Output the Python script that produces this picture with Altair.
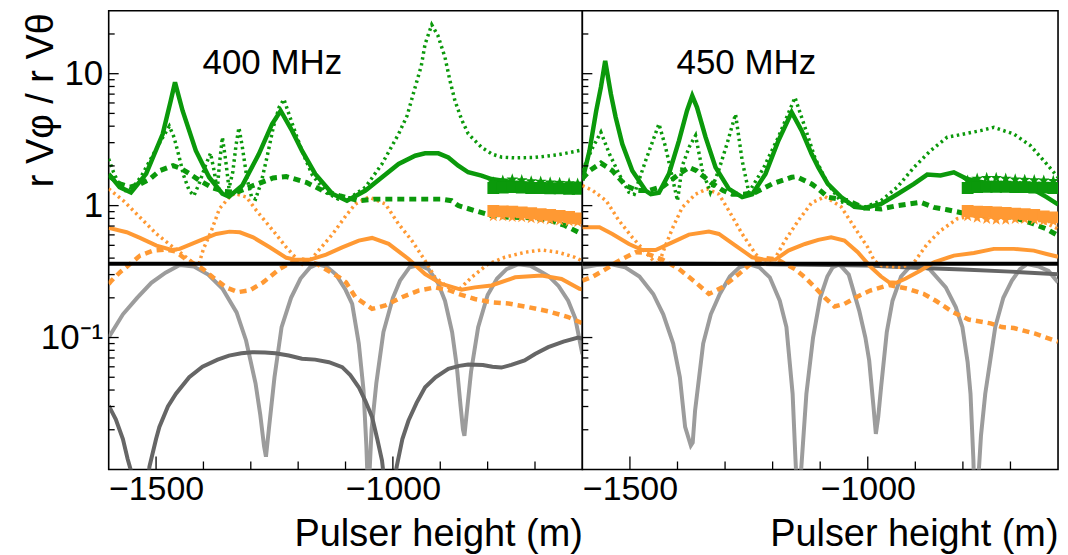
import altair as alt
import pandas as pd

FONT = "Liberation Sans"
GREEN = "#0b990b"
ORANGE = "#ff9933"
LGRAY = "#9c9c9c"
DGRAY = "#666666"

X_DOMAIN = [-1600, -600]
Y_DOMAIN = [0.01, 30]
X_LABELS = [-1500, -1000]
X_MINOR = [-1400, -1300, -1200, -1100, -900, -800, -700]
Y_MAJOR = [0.1, 1, 10]
Y_MINOR = [0.02, 0.03, 0.04, 0.05, 0.06, 0.07, 0.08, 0.09,
           0.2, 0.3, 0.4, 0.5, 0.6, 0.7, 0.8, 0.9,
           2, 3, 4, 5, 6, 7, 8, 9, 20]
PANEL_LABELS = ["400 MHz", "450 MHz"]
LABEL_X = -1402
LABEL_V = 12.0
REF_LINE = [(-1600, 0.362), (-600, 0.362)]

# ---------------- 400 MHz ----------------
A_GREEN_SOLID = [(-1600, 1.74), (-1577, 1.38), (-1553, 1.26), (-1521, 1.74), (-1486, 3.49), (-1469, 6.24),
                 (-1460, 8.6), (-1444, 5.24), (-1416, 2.61), (-1388, 1.64), (-1360, 1.23), (-1346, 1.17),
                 (-1318, 1.42), (-1283, 2.46), (-1255, 4.16), (-1237, 5.24), (-1213, 3.70), (-1192, 2.61),
                 (-1164, 1.74), (-1128, 1.23), (-1097, 1.09), (-1058, 1.30), (-1023, 1.64), (-988, 2.07),
                 (-953, 2.39), (-932, 2.49), (-904, 2.49), (-883, 2.32), (-862, 2.01), (-841, 1.79),
                 (-813, 1.69), (-792, 1.59), (-743, 1.50), (-700, 1.45), (-650, 1.42), (-600, 1.38)]
A_GREEN_DOTTED = [(-1600, 2.26), (-1590, 1.8), (-1578, 1.45), (-1565, 1.3), (-1550, 1.35), (-1530, 1.7),
                  (-1510, 2.3), (-1490, 3.1), (-1472, 4.0), (-1462, 3.3), (-1452, 2.4), (-1442, 1.7),
                  (-1430, 1.3), (-1420, 1.19), (-1408, 1.5), (-1396, 2.0), (-1385, 2.5), (-1377, 1.8),
                  (-1371, 1.3), (-1366, 2.1), (-1360, 3.3), (-1353, 2.2), (-1346, 1.35), (-1338, 1.8),
                  (-1331, 2.9), (-1325, 3.9), (-1318, 2.8), (-1308, 1.6), (-1298, 1.15), (-1290, 1.12),
                  (-1278, 1.5), (-1265, 2.4), (-1252, 4.0), (-1240, 5.6), (-1230, 6.4), (-1220, 5.0),
                  (-1205, 3.5), (-1190, 2.5), (-1170, 1.7), (-1140, 1.25), (-1115, 1.12), (-1090, 1.15),
                  (-1058, 1.38), (-1023, 2.07), (-988, 3.49), (-970, 4.8), (-953, 7.9), (-940, 11.5),
                  (-932, 16.8), (-918, 23.5), (-905, 19.5), (-890, 13.3), (-880, 9.0), (-869, 6.24),
                  (-855, 4.5), (-841, 3.5), (-813, 2.77), (-790, 2.45), (-770, 2.33), (-742, 2.30),
                  (-700, 2.32), (-651, 2.43), (-600, 2.64)]
A_GREEN_DASHED = [(-1600, 1.69), (-1576, 1.46), (-1555, 1.38), (-1535, 1.45), (-1513, 1.59), (-1492, 1.84),
                  (-1464, 2.01), (-1446, 1.90), (-1429, 1.74), (-1408, 1.55), (-1380, 1.36), (-1355, 1.28),
                  (-1330, 1.26), (-1295, 1.42), (-1253, 1.62), (-1225, 1.66), (-1183, 1.50), (-1148, 1.30),
                  (-1113, 1.19), (-1072, 1.09), (-1037, 1.12), (-967, 1.12), (-897, 1.12), (-876, 1.09),
                  (-862, 1.00), (-827, 0.916), (-792, 0.84), (-756, 0.816), (-714, 0.81), (-672, 0.78),
                  (-637, 0.707), (-609, 0.63), (-600, 0.61)]
A_ORANGE_SOLID = [(-1600, 0.678), (-1562, 0.628), (-1534, 0.569), (-1499, 0.498), (-1467, 0.461),
                  (-1450, 0.47), (-1408, 0.543), (-1373, 0.61), (-1345, 0.635), (-1323, 0.628),
                  (-1295, 0.575), (-1260, 0.483), (-1225, 0.402), (-1204, 0.388), (-1176, 0.388),
                  (-1141, 0.425), (-1107, 0.483), (-1072, 0.543), (-1044, 0.569), (-1009, 0.513),
                  (-967, 0.394), (-932, 0.303), (-897, 0.255), (-855, 0.23), (-827, 0.24), (-792, 0.248),
                  (-742, 0.286), (-686, 0.295), (-644, 0.278), (-606, 0.234), (-600, 0.232)]
A_ORANGE_DOTTED = [(-1600, 1.34), (-1569, 1.09), (-1534, 0.816), (-1499, 0.61), (-1464, 0.483),
                   (-1436, 0.406), (-1418, 0.36), (-1410, 0.355), (-1400, 0.47), (-1385, 0.62),
                   (-1366, 0.95), (-1346, 1.15), (-1334, 1.24), (-1309, 1.16), (-1288, 0.916),
                   (-1253, 0.646), (-1225, 0.483), (-1201, 0.388), (-1188, 0.35), (-1169, 0.406),
                   (-1127, 0.61), (-1099, 0.84), (-1079, 1.03), (-1051, 1.16), (-1016, 1.03),
                   (-988, 0.726), (-960, 0.543), (-932, 0.383), (-911, 0.286), (-883, 0.24),
                   (-858, 0.235), (-834, 0.286), (-799, 0.361), (-764, 0.406), (-721, 0.443),
                   (-686, 0.461), (-651, 0.443), (-616, 0.406), (-600, 0.38)]
A_ORANGE_DASHED = [(-1600, 0.255), (-1594, 0.27), (-1576, 0.313), (-1555, 0.36), (-1534, 0.418),
                   (-1506, 0.456), (-1480, 0.465), (-1460, 0.45), (-1440, 0.40), (-1418, 0.36),
                   (-1401, 0.331), (-1380, 0.286), (-1352, 0.24), (-1327, 0.221), (-1302, 0.228),
                   (-1274, 0.262), (-1239, 0.331), (-1215, 0.37), (-1190, 0.39), (-1160, 0.36),
                   (-1130, 0.31), (-1113, 0.286), (-1099, 0.262), (-1079, 0.202), (-1044, 0.165),
                   (-1016, 0.175), (-981, 0.202), (-946, 0.227), (-911, 0.24), (-880, 0.228),
                   (-862, 0.214), (-827, 0.196), (-792, 0.185), (-756, 0.181), (-714, 0.17),
                   (-672, 0.158), (-630, 0.143), (-606, 0.131), (-600, 0.128)]
A_LIGHT_GRAY = [(-1600, 0.10), (-1570, 0.15), (-1540, 0.20), (-1510, 0.26), (-1480, 0.31), (-1450, 0.355),
                (-1420, 0.345), (-1390, 0.30), (-1360, 0.235), (-1330, 0.155), (-1310, 0.095),
                (-1290, 0.045), (-1280, 0.026), (-1272, 0.015), (-1268, 0.0125), (-1262, 0.02),
                (-1250, 0.05), (-1235, 0.12), (-1215, 0.20), (-1195, 0.28), (-1175, 0.34), (-1160, 0.36),
                (-1140, 0.345), (-1120, 0.30), (-1100, 0.23), (-1086, 0.18), (-1072, 0.09),
                (-1062, 0.04), (-1056, 0.015), (-1052, 0.006), (-1045, 0.02), (-1035, 0.045),
                (-1020, 0.11), (-1000, 0.20), (-985, 0.27), (-965, 0.34), (-945, 0.355), (-925, 0.33),
                (-905, 0.26), (-890, 0.19), (-875, 0.11), (-865, 0.06), (-857, 0.03), (-852, 0.02),
                (-849, 0.018), (-845, 0.025), (-835, 0.055), (-820, 0.12), (-800, 0.21), (-780, 0.28),
                (-760, 0.33), (-735, 0.36), (-710, 0.35), (-690, 0.32), (-670, 0.29), (-650, 0.245),
                (-630, 0.19), (-615, 0.14), (-600, 0.075)]
A_DARK_GRAY = [(-1600, 0.0305), (-1585, 0.024), (-1570, 0.017), (-1560, 0.012), (-1553, 0.0098),
               (-1540, 0.004), (-1525, 0.004), (-1514, 0.0105), (-1500, 0.017), (-1493, 0.021),
               (-1475, 0.03), (-1458, 0.0375), (-1430, 0.05), (-1402, 0.06), (-1370, 0.068),
               (-1346, 0.073), (-1320, 0.076), (-1297, 0.0774), (-1270, 0.077), (-1248, 0.076),
               (-1220, 0.073), (-1192, 0.069), (-1164, 0.068), (-1135, 0.065), (-1107, 0.0596),
               (-1090, 0.052), (-1072, 0.042), (-1058, 0.033), (-1044, 0.025), (-1033, 0.017),
               (-1023, 0.0117), (-1016, 0.007), (-1005, 0.004), (-997, 0.008), (-992, 0.0105),
               (-980, 0.017), (-967, 0.0235), (-950, 0.032), (-932, 0.042), (-910, 0.05), (-883, 0.058),
               (-860, 0.061), (-841, 0.0624), (-810, 0.062), (-790, 0.060), (-771, 0.0592),
               (-750, 0.062), (-722, 0.067), (-700, 0.075), (-672, 0.0845), (-640, 0.093),
               (-609, 0.10), (-600, 0.098)]
A_MARK_X = [-788, -768, -748, -728, -708, -688, -668, -648, -628, -610]
A_GREEN_SQUARES = [1.36, 1.37, 1.38, 1.37, 1.36, 1.36, 1.35, 1.35, 1.34, 1.34]
A_GREEN_STARS = [1.50, 1.55, 1.58, 1.56, 1.53, 1.52, 1.50, 1.49, 1.48, 1.47]
A_ORANGE_SQUARES = [0.91, 0.905, 0.90, 0.89, 0.875, 0.86, 0.85, 0.835, 0.82, 0.80]
A_ORANGE_STARS = [0.83, 0.83, 0.82, 0.815, 0.80, 0.79, 0.78, 0.77, 0.76, 0.75]

# ---------------- 450 MHz ----------------
B_GREEN_SOLID = [(-1600, 1.55), (-1585, 2.6), (-1571, 5.2), (-1561, 7.9), (-1552, 12.5), (-1540, 7.0),
                 (-1530, 4.67), (-1516, 2.93), (-1495, 1.84), (-1467, 1.30), (-1456, 1.22), (-1439, 1.25),
                 (-1418, 1.74), (-1397, 3.1), (-1380, 5.24), (-1369, 6.8), (-1359, 5.56), (-1341, 3.3),
                 (-1320, 1.95), (-1292, 1.34), (-1264, 1.16), (-1243, 1.22), (-1215, 1.74), (-1188, 3.1),
                 (-1160, 5.1), (-1139, 3.7), (-1118, 2.46), (-1104, 1.95), (-1084, 1.46), (-1056, 1.16),
                 (-1028, 0.98), (-1007, 0.96), (-972, 1.03), (-938, 1.22), (-903, 1.46), (-875, 1.72),
                 (-847, 1.69), (-819, 1.79), (-791, 1.59), (-750, 1.48), (-700, 1.42), (-670, 1.38),
                 (-648, 1.30), (-624, 1.16), (-600, 1.02)]
B_GREEN_DOTTED = [(-1600, 1.84), (-1578, 2.77), (-1561, 3.6), (-1543, 2.46), (-1523, 1.74), (-1502, 1.26),
                  (-1491, 1.22), (-1467, 2.19), (-1439, 4.16), (-1425, 2.77), (-1411, 1.64), (-1400, 1.09),
                  (-1390, 2.0), (-1375, 2.8), (-1362, 3.4), (-1348, 1.87), (-1331, 1.26), (-1313, 1.87),
                  (-1296, 2.93), (-1278, 4.94), (-1264, 2.19), (-1250, 1.26), (-1220, 1.9), (-1188, 3.3),
                  (-1153, 6.6), (-1132, 3.92), (-1111, 2.3), (-1084, 1.46), (-1056, 1.07), (-1007, 0.97),
                  (-972, 1.09), (-938, 1.38), (-903, 1.95), (-868, 2.61), (-833, 3.3), (-798, 3.49),
                  (-763, 3.7), (-735, 3.92), (-693, 3.49), (-658, 2.85), (-624, 2.07), (-600, 1.64)]
B_GREEN_DASHED = [(-1600, 1.6), (-1585, 1.84), (-1561, 2.1), (-1537, 1.84), (-1509, 1.42), (-1485, 1.30),
                  (-1460, 1.3), (-1430, 1.4), (-1400, 1.7), (-1376, 1.95), (-1360, 1.84), (-1330, 1.5),
                  (-1304, 1.30), (-1285, 1.22), (-1260, 1.22), (-1236, 1.26), (-1201, 1.46), (-1160, 1.64),
                  (-1150, 1.66), (-1118, 1.46), (-1104, 1.34), (-1084, 1.16), (-1042, 1.09), (-1007, 0.96),
                  (-972, 0.944), (-938, 1.0), (-889, 1.06), (-861, 0.97), (-833, 0.93), (-791, 0.865),
                  (-742, 0.84), (-693, 0.816), (-651, 0.726), (-624, 0.665), (-600, 0.593)]
B_ORANGE_SOLID = [(-1600, 0.685), (-1564, 0.685), (-1537, 0.61), (-1502, 0.512), (-1474, 0.461),
                  (-1446, 0.461), (-1411, 0.527), (-1376, 0.603), (-1334, 0.635), (-1313, 0.61),
                  (-1278, 0.498), (-1243, 0.406), (-1215, 0.388), (-1194, 0.39), (-1167, 0.456),
                  (-1132, 0.512), (-1104, 0.55), (-1077, 0.575), (-1049, 0.543), (-1021, 0.443),
                  (-993, 0.341), (-972, 0.29), (-955, 0.262), (-940, 0.26), (-920, 0.28), (-889, 0.322),
                  (-861, 0.372), (-819, 0.418), (-777, 0.437), (-735, 0.47), (-693, 0.47), (-651, 0.456),
                  (-624, 0.43), (-600, 0.41)]
B_ORANGE_DOTTED = [(-1600, 1.42), (-1578, 1.30), (-1550, 1.09), (-1523, 0.77), (-1495, 0.575),
                   (-1467, 0.443), (-1450, 0.38), (-1440, 0.36), (-1425, 0.5), (-1410, 0.68),
                   (-1390, 0.97), (-1362, 1.22), (-1338, 1.34), (-1313, 1.22), (-1292, 0.916),
                   (-1264, 0.61), (-1236, 0.43), (-1215, 0.36), (-1200, 0.37), (-1174, 0.543),
                   (-1146, 0.77), (-1118, 1.05), (-1090, 1.17), (-1056, 0.98), (-1028, 0.685),
                   (-1000, 0.483), (-986, 0.38), (-970, 0.35), (-930, 0.34), (-903, 0.37), (-875, 0.512),
                   (-847, 0.646), (-812, 0.795), (-777, 0.84), (-728, 0.865), (-679, 0.84), (-637, 0.77),
                   (-600, 0.665)]
B_ORANGE_DASHED = [(-1600, 0.27), (-1578, 0.29), (-1550, 0.331), (-1530, 0.37), (-1509, 0.406),
                   (-1488, 0.443), (-1470, 0.44), (-1432, 0.39), (-1397, 0.331), (-1362, 0.262),
                   (-1334, 0.214), (-1306, 0.24), (-1271, 0.303), (-1243, 0.37), (-1215, 0.40),
                   (-1190, 0.39), (-1153, 0.33), (-1132, 0.286), (-1111, 0.24), (-1090, 0.2),
                   (-1070, 0.172), (-1049, 0.18), (-1021, 0.205), (-995, 0.227), (-955, 0.25),
                   (-917, 0.235), (-882, 0.214), (-857, 0.19), (-820, 0.155), (-788, 0.137),
                   (-742, 0.128), (-718, 0.12), (-693, 0.118), (-648, 0.107), (-600, 0.093)]
B_LIGHT_GRAY = [(-1600, 0.34), (-1570, 0.355), (-1541, 0.36), (-1510, 0.34), (-1480, 0.29), (-1451, 0.214),
                (-1430, 0.15), (-1409, 0.09), (-1395, 0.05), (-1384, 0.021), (-1372, 0.0152),
                (-1368, 0.016), (-1363, 0.028), (-1346, 0.09), (-1330, 0.15), (-1311, 0.214),
                (-1290, 0.29), (-1270, 0.34), (-1250, 0.36), (-1228, 0.34), (-1206, 0.286),
                (-1185, 0.19), (-1171, 0.12), (-1158, 0.0375), (-1152, 0.012), (-1147, 0.005),
                (-1140, 0.01), (-1129, 0.0375), (-1115, 0.10), (-1100, 0.20), (-1085, 0.29),
                (-1074, 0.34), (-1060, 0.36), (-1040, 0.30), (-1018, 0.16), (-1005, 0.10), (-997, 0.067),
                (-988, 0.03), (-983, 0.0186), (-978, 0.025), (-972, 0.042), (-960, 0.11), (-948, 0.19),
                (-930, 0.29), (-913, 0.34), (-899, 0.36), (-870, 0.33), (-836, 0.24), (-815, 0.17),
                (-801, 0.12), (-790, 0.065), (-784, 0.0375), (-778, 0.012), (-775, 0.005),
                (-768, 0.008), (-762, 0.018), (-753, 0.0375), (-732, 0.12), (-715, 0.2), (-697, 0.27),
                (-680, 0.33), (-665, 0.36), (-640, 0.345), (-620, 0.32), (-600, 0.262)]
B_DARK_GRAY = [(-1600, 0.362), (-1400, 0.362), (-1200, 0.36), (-1000, 0.352), (-900, 0.338),
               (-800, 0.328), (-700, 0.316), (-600, 0.302)]
B_MARK_X = [-790, -770, -750, -730, -710, -690, -670, -650, -630, -610]
B_GREEN_SQUARES = [1.36, 1.38, 1.39, 1.39, 1.39, 1.38, 1.38, 1.37, 1.37, 1.36]
B_GREEN_STARS = [1.55, 1.60, 1.62, 1.62, 1.60, 1.58, 1.57, 1.56, 1.55, 1.54]
B_ORANGE_SQUARES = [0.91, 0.90, 0.895, 0.89, 0.88, 0.87, 0.86, 0.85, 0.83, 0.815]
B_ORANGE_STARS = [0.83, 0.81, 0.79, 0.78, 0.78, 0.79, 0.79, 0.78, 0.77, 0.76]

STAR = ("M0,-1L0.235,-0.324L0.951,-0.309L0.38,0.124L0.588,0.809L0,0.4"
        "L-0.588,0.809L-0.38,0.124L-0.951,-0.309L-0.235,-0.324Z")

# style per curve: colour, width, dash
STYLES = {
    "lgray": (LGRAY, 4, None),
    "dgray": (DGRAY, 4, None),
    "odash": (ORANGE, 4.5, [7, 5]),
    "odot": (ORANGE, 3.5, [2.5, 3.5]),
    "osolid": (ORANGE, 4, None),
    "gdash": (GREEN, 5, [7, 5]),
    "gdot": (GREEN, 3.5, [2.5, 3.5]),
    "gsolid": (GREEN, 4.5, None),
}


def df_pairs(pairs):
    return pd.DataFrame(pairs, columns=["x", "v"])


def build_panel(curves, marks_x, marks, label, show_y, width):
    xscale = alt.Scale(domain=X_DOMAIN, nice=False, zero=False)
    yscale = alt.Scale(type="log", domain=Y_DOMAIN, nice=False)
    xaxis = alt.Axis(values=X_LABELS, format="d", ticks=False, domain=False, grid=False,
                     labelFont=FONT, labelFontSize=34, labelColor="black", labelPadding=3,
                     labelBaseline="top",
                     title="Pulser height (m)", titleFont=FONT, titleFontSize=38,
                     titleFontWeight="normal", titleColor="black", titleAnchor="end",
                     titleAlign="right", titleBaseline="alphabetic", titleY=76)
    if show_y:
        yaxis = alt.Axis(values=Y_MAJOR, ticks=False, domain=False, grid=False,
                         labelExpr="datum.value < 0.5 ? '10\u207b\u00b9' : (datum.value < 5 ? '1' : '10')",
                         labelFont=FONT, labelFontSize=35, labelColor="black", labelPadding=6,
                         title="r V\u03c6 / r V\u03b8", titleFont=FONT, titleFontSize=38,
                         titleFontWeight="normal", titleColor="black", titleAngle=270,
                         titleAlign="right", titleBaseline="alphabetic", titleX=-56, titleY=2)
    else:
        yaxis = None
    X = alt.X("x:Q", scale=xscale, axis=xaxis)
    Y = alt.Y("v:Q", scale=yscale, axis=yaxis)

    layers = []
    for key, pairs in curves:
        color, sw, dash = STYLES[key]
        kw = dict(color=color, strokeWidth=sw, clip=True, strokeCap="butt", strokeJoin="miter")
        if dash:
            kw["strokeDash"] = dash
        layers.append(alt.Chart(df_pairs(pairs)).mark_line(**kw).encode(x=X, y=Y))

    g_sq, g_st, o_sq, o_st = marks
    for vals, color, shape, size in [(o_st, ORANGE, STAR, 150), (o_sq, ORANGE, "square", 140),
                                     (g_st, GREEN, STAR, 150), (g_sq, GREEN, "square", 140)]:
        d = pd.DataFrame({"x": marks_x, "v": vals})
        layers.append(alt.Chart(d).mark_point(shape=shape, filled=True, size=size, color=color,
                                              opacity=1, strokeWidth=0, clip=True).encode(x=X, y=Y))

    layers.append(alt.Chart(df_pairs(REF_LINE)).mark_line(color="black", strokeWidth=4, clip=True)
                  .encode(x=X, y=Y))

    # inward ticks
    layers.append(alt.Chart(pd.DataFrame({"v": Y_MAJOR})).mark_rule(color="black", strokeWidth=1.3)
                  .encode(y=Y, x=alt.value(0), x2=alt.value(10)))
    layers.append(alt.Chart(pd.DataFrame({"v": Y_MINOR})).mark_rule(color="black", strokeWidth=1.3)
                  .encode(y=Y, x=alt.value(0), x2=alt.value(6)))
    layers.append(alt.Chart(pd.DataFrame({"x": X_LABELS})).mark_rule(color="black", strokeWidth=1.3)
                  .encode(x=X, y=alt.value(460), y2=alt.value(447)))
    layers.append(alt.Chart(pd.DataFrame({"x": X_MINOR})).mark_rule(color="black", strokeWidth=1.3)
                  .encode(x=X, y=alt.value(460), y2=alt.value(452)))

    layers.append(alt.Chart(pd.DataFrame({"x": [LABEL_X], "v": [LABEL_V], "t": [label]}))
                  .mark_text(align="left", baseline="middle", font=FONT, fontSize=35, color="black")
                  .encode(x=X, y=Y, text="t:N"))
    return alt.layer(*layers).properties(
        width=width, height=460,
        view=alt.ViewBackground(stroke="black", strokeWidth=1.6, fill="white"))


curves_a = [("lgray", A_LIGHT_GRAY), ("dgray", A_DARK_GRAY), ("odash", A_ORANGE_DASHED),
            ("odot", A_ORANGE_DOTTED), ("osolid", A_ORANGE_SOLID), ("gdash", A_GREEN_DASHED),
            ("gdot", A_GREEN_DOTTED), ("gsolid", A_GREEN_SOLID)]
curves_b = [("lgray", B_LIGHT_GRAY), ("dgray", B_DARK_GRAY), ("odash", B_ORANGE_DASHED),
            ("odot", B_ORANGE_DOTTED), ("osolid", B_ORANGE_SOLID), ("gdash", B_GREEN_DASHED),
            ("gdot", B_GREEN_DOTTED), ("gsolid", B_GREEN_SOLID)]

left = build_panel(curves_a, A_MARK_X, (A_GREEN_SQUARES, A_GREEN_STARS, A_ORANGE_SQUARES, A_ORANGE_STARS),
                   PANEL_LABELS[0], True, 475)
right = build_panel(curves_b, B_MARK_X, (B_GREEN_SQUARES, B_GREEN_STARS, B_ORANGE_SQUARES, B_ORANGE_STARS),
                    PANEL_LABELS[1], False, 477)

chart = (alt.hconcat(left, right, spacing=0, bounds="flush")
         .properties(padding={"left": 22, "top": 9, "right": 9, "bottom": 0})
         .configure_view(stroke="black", strokeWidth=1.6)
         .configure(font=FONT, background="white"))

chart.save("out.html", embed_options={"renderer": "svg", "actions": False})
